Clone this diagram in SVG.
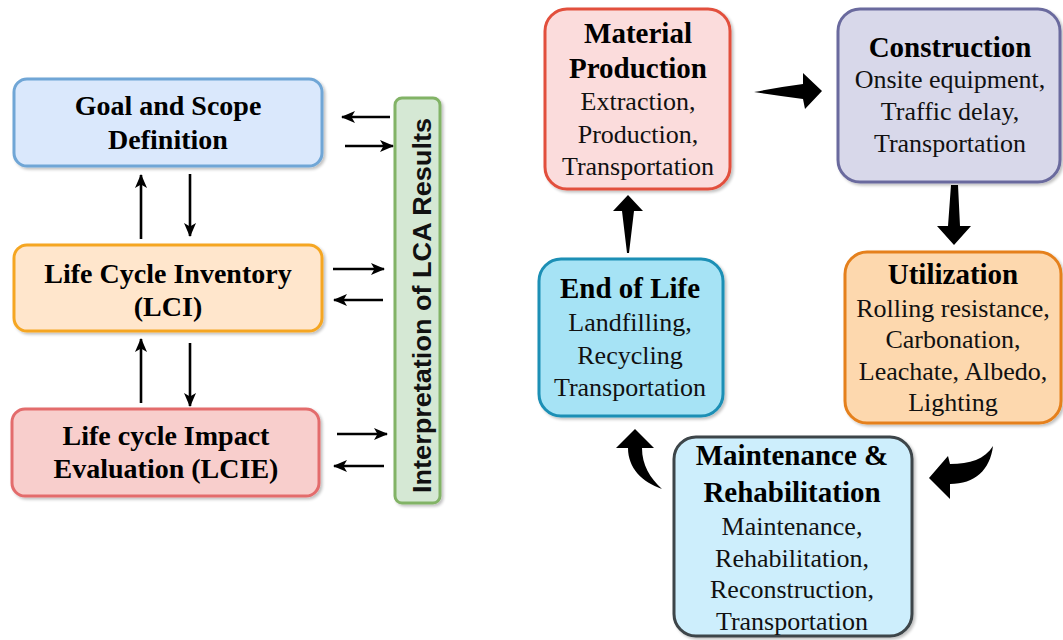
<svg xmlns="http://www.w3.org/2000/svg" width="1063" height="640" viewBox="0 0 1063 640">
  <defs>
    <filter id="shadow" x="-10%" y="-10%" width="125%" height="125%">
      <feGaussianBlur in="SourceAlpha" stdDeviation="1.5"/>
      <feOffset dx="2" dy="2" result="blur"/>
      <feComponentTransfer><feFuncA type="linear" slope="0.25"/></feComponentTransfer>
      <feMerge><feMergeNode/><feMergeNode in="SourceGraphic"/></feMerge>
    </filter>
    <marker id="tip" markerUnits="userSpaceOnUse" markerWidth="15" markerHeight="15" viewBox="0 0 15 15" refX="13" refY="7.5" orient="auto">
      <path d="M0,1.5 L14,7.5 L0,13.5 L3.5,7.5 Z" fill="#000"/>
    </marker>
  </defs>
  <style>
    .box { stroke-width: 3; filter: url(#shadow); }
    .ttl { font-family: "Liberation Serif", "Times New Roman", serif; font-weight: bold; fill: #000; text-anchor: middle; }
    .lt { font-size: 28px; }
    .rt { font-size: 29px; }
    .body { font-family: "Liberation Serif", "Times New Roman", serif; font-size: 26px; fill: #111; text-anchor: middle; }
    .thin { stroke: #000; stroke-width: 2.6; fill: none; marker-end: url(#tip); }
    .block { fill: #000; }
  </style>
  <rect width="1063" height="640" fill="#fff"/>

  <!-- LCA framework (left) -->
  <g id="goal-scope">
    <rect class="box" x="14" y="79" width="308" height="87" rx="13" fill="#dae8fc" stroke="#6fa6d6"/>
    <text class="ttl lt" x="168" y="115">Goal and Scope</text>
    <text class="ttl lt" x="168" y="149">Definition</text>
  </g>
  <g id="lci">
    <rect class="box" x="14" y="245" width="308" height="86" rx="13" fill="#ffe6cc" stroke="#f5a623"/>
    <text class="ttl lt" x="168" y="283">Life Cycle Inventory</text>
    <text class="ttl lt" x="168" y="316">(LCI)</text>
  </g>
  <g id="lcie">
    <rect class="box" x="12" y="409" width="307" height="87" rx="13" fill="#f8cecc" stroke="#e36c6c"/>
    <text class="ttl lt" x="166" y="445">Life cycle Impact</text>
    <text class="ttl lt" x="166" y="478">Evaluation (LCIE)</text>
  </g>
  <g id="interpretation">
    <rect class="box" x="395" y="98" width="45" height="405" rx="7" fill="#d5e8d4" stroke="#82b366"/>
    <text transform="translate(431,305.5) rotate(-90)" x="0" y="0" text-anchor="middle" font-family="Liberation Sans, Arial, sans-serif" font-weight="bold" font-size="25" textLength="375" lengthAdjust="spacingAndGlyphs" fill="#111">Interpretation of LCA Results</text>
  </g>

  <!-- Pavement life cycle stages (right) -->
  <g id="material-production">
    <rect class="box" x="545" y="9" width="185" height="180" rx="22" fill="#fbdcdc" stroke="#e2503c"/>
    <text class="ttl rt" x="638" y="43">Material</text>
    <text class="ttl rt" x="638" y="78">Production</text>
    <text class="body" x="638" y="110">Extraction,</text>
    <text class="body" x="638" y="143">Production,</text>
    <text class="body" x="638" y="175">Transportation</text>
  </g>
  <g id="construction">
    <rect class="box" x="838" y="9" width="222" height="173" rx="22" fill="#d8d8ea" stroke="#6b6b9e"/>
    <text class="ttl rt" x="950" y="57">Construction</text>
    <text class="body" x="950" y="88">Onsite equipment,</text>
    <text class="body" x="950" y="120">Traffic delay,</text>
    <text class="body" x="950" y="152">Transportation</text>
  </g>
  <g id="utilization">
    <rect class="box" x="845" y="252" width="216" height="171" rx="22" fill="#fdd8ae" stroke="#e5801c"/>
    <text class="ttl rt" x="953" y="284">Utilization</text>
    <text class="body" x="953" y="317">Rolling resistance,</text>
    <text class="body" x="953" y="348">Carbonation,</text>
    <text class="body" x="953" y="380">Leachate, Albedo,</text>
    <text class="body" x="953" y="411">Lighting</text>
  </g>
  <g id="maintenance-rehabilitation">
    <rect class="box" x="674" y="437" width="238" height="199" rx="22" fill="#cdeefc" stroke="#3c4448"/>
    <text class="ttl rt" x="792" y="465">Maintenance &amp;</text>
    <text class="ttl rt" x="792" y="502">Rehabilitation</text>
    <text class="body" x="792" y="535">Maintenance,</text>
    <text class="body" x="792" y="567">Rehabilitation,</text>
    <text class="body" x="792" y="598">Reconstruction,</text>
    <text class="body" x="792" y="630">Transportation</text>
  </g>
  <g id="end-of-life">
    <rect class="box" x="539" y="259" width="184" height="157" rx="22" fill="#a6e3f5" stroke="#1b8fb5"/>
    <text class="ttl rt" x="630" y="298">End of Life</text>
    <text class="body" x="630" y="331">Landfilling,</text>
    <text class="body" x="630" y="364">Recycling</text>
    <text class="body" x="630" y="396">Transportation</text>
  </g>

  <g id="connectors">
    <!-- framework links -->
    <line class="thin" x1="141" y1="239" x2="141" y2="175"/>
    <line class="thin" x1="190" y1="174" x2="190" y2="236"/>
    <line class="thin" x1="141" y1="403" x2="141" y2="339"/>
    <line class="thin" x1="190" y1="343" x2="190" y2="406"/>
    <line class="thin" x1="390" y1="117" x2="342" y2="117"/>
    <line class="thin" x1="345" y1="146" x2="393" y2="146"/>
    <line class="thin" x1="333" y1="269" x2="384" y2="269"/>
    <line class="thin" x1="383" y1="300" x2="334" y2="300"/>
    <line class="thin" x1="337" y1="434" x2="387" y2="434"/>
    <line class="thin" x1="384" y1="466" x2="334" y2="466"/>

    <!-- life cycle flow -->
    <path class="block" d="M754,92 Q780,87 803,84 L803,73 L822,91 L805,109 L803,99 Q780,96 754,92 Z"/>
    <path class="block" d="M951,185 L958,185 L960,226 L971,226 L954,245 L937,226 L948,226 Z"/>
    <path class="block" d="M993,446 C985,459 970,464 950,464 L948,456 L929,478 L950,499 L950,484 C975,484 990,470 993,446 Z"/>
    <path class="block" d="M635,429 L616,448 L628,448 C628,468 642,482 662,489 C650,478 642,465 642,448 L654,448 Z"/>
    <path class="block" d="M628,195 L643,211 L634,211 L629,253 L627,253 L622,211 L613,211 Z"/>
  </g>
</svg>
